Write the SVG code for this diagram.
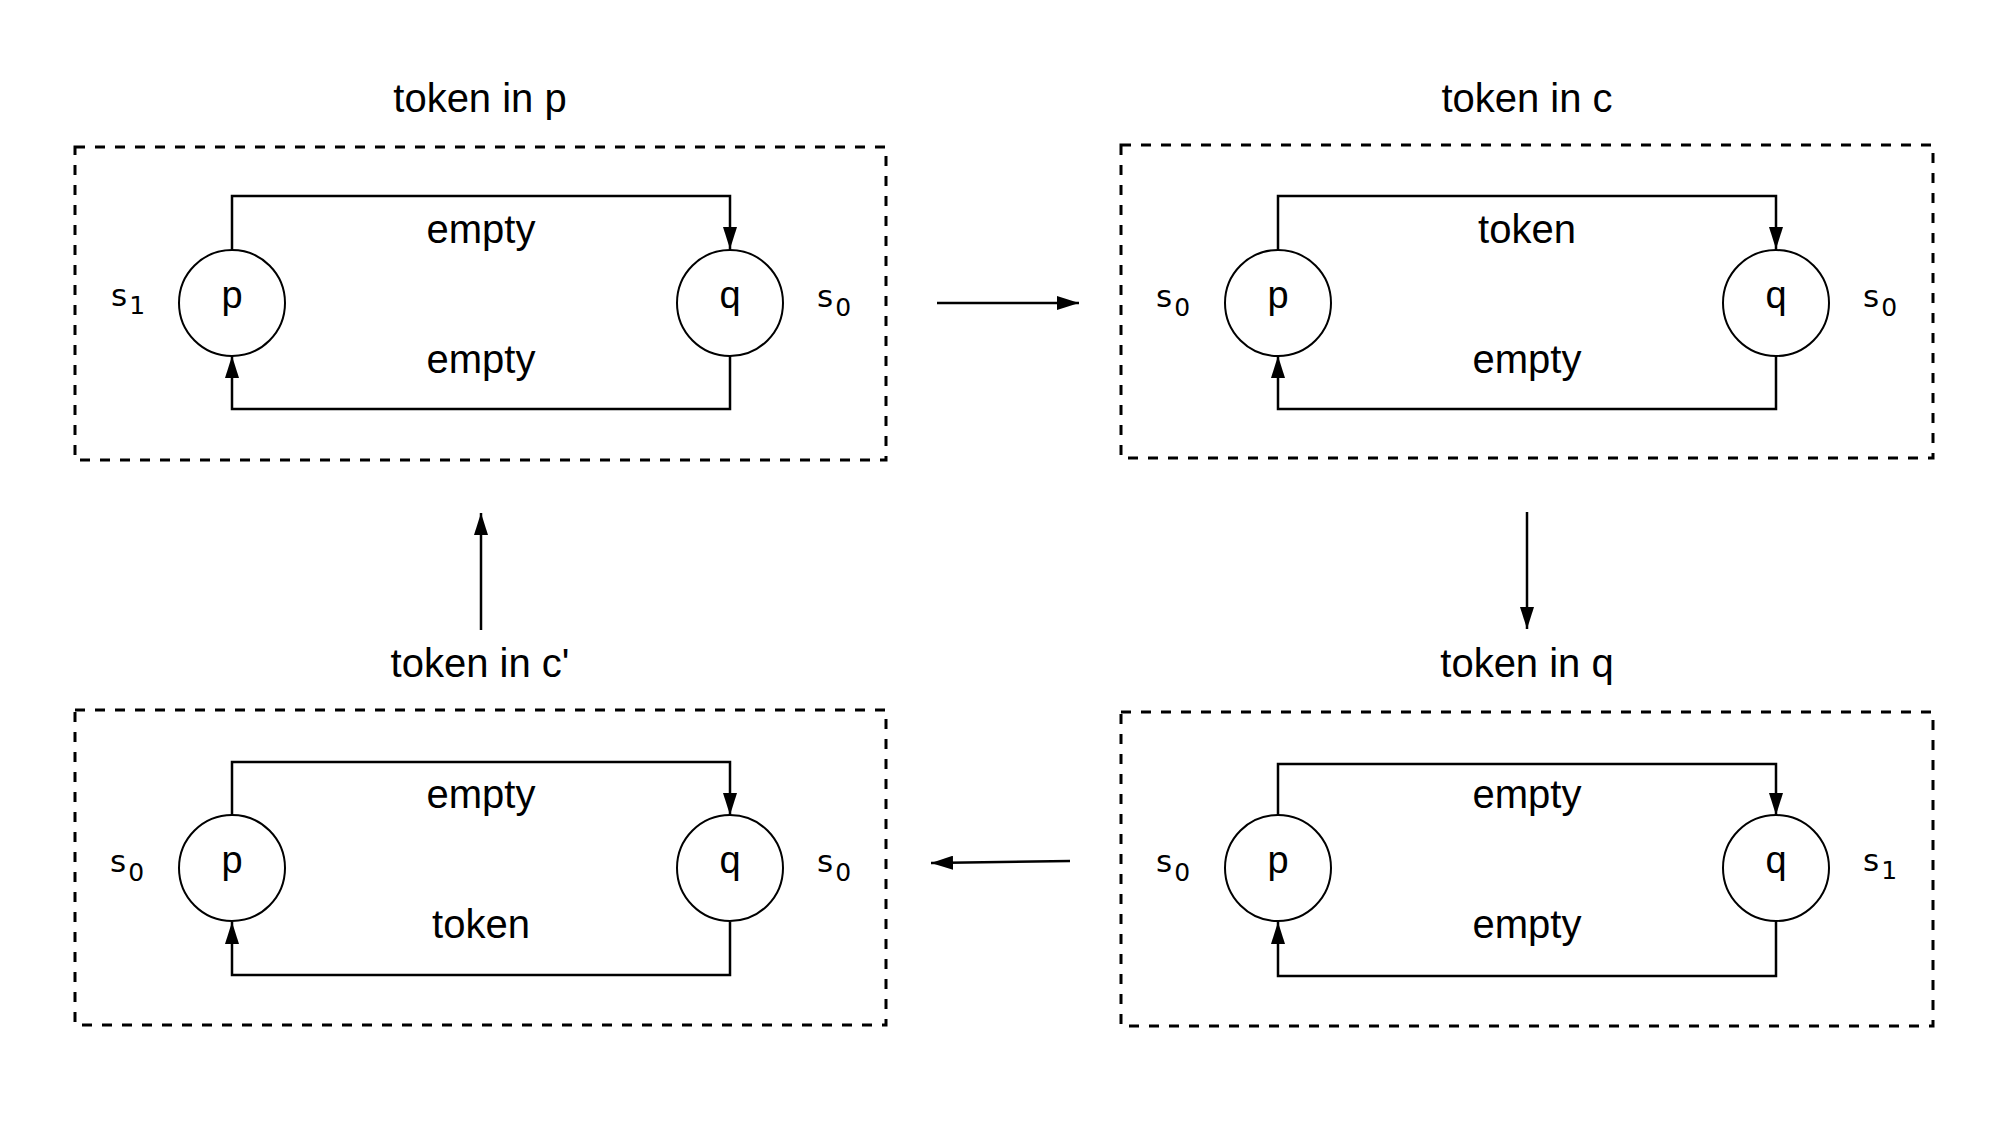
<svg xmlns="http://www.w3.org/2000/svg" width="2000" height="1140" viewBox="0 0 2000 1140">
<style>
.box{fill:none;stroke:#000;stroke-width:3;stroke-dasharray:10 10}
.node{fill:#fff;stroke:#000;stroke-width:2}
.loop{fill:none;stroke:#000;stroke-width:2.5}
.conn{fill:none;stroke:#000;stroke-width:2.5}
text{font-family:"Liberation Sans",Arial,sans-serif;fill:#000}
.t{font-size:40px;text-anchor:middle}
.n{font-size:38px;text-anchor:middle}
.s{font-size:31px;font-family:"DejaVu Sans","Liberation Sans",sans-serif}
.sub{font-size:25px}
</style>
<defs>
<marker id="ah" viewBox="0 0 22 14" refX="22" refY="7" markerWidth="22" markerHeight="14" markerUnits="userSpaceOnUse" orient="auto">
<path d="M0,0 L22,7 L0,14 z" fill="#000"/>
</marker>
</defs>

<g id="state-p">
<text class="t" x="480" y="112">token in p</text>
<rect class="box" x="75" y="147" width="811" height="313"/>
<path class="loop" d="M232,249 V196 H730 V249" marker-end="url(#ah)"/>
<path class="loop" d="M730,356 V409 H232 V356" marker-end="url(#ah)"/>
<text class="t" x="481" y="243">empty</text>
<text class="t" x="481" y="373">empty</text>
<g id="p1"><circle class="node" cx="232" cy="303" r="53"/><text class="n" x="232" y="308">p</text></g>
<g id="q1"><circle class="node" cx="730" cy="303" r="53"/><text class="n" x="730" y="308">q</text></g>
<text class="s" x="111" y="306">s<tspan class="sub" dx="2" dy="8">1</tspan></text>
<text class="s" x="817" y="307">s<tspan class="sub" dx="2" dy="9">0</tspan></text>
</g>

<g id="state-c">
<text class="t" x="1527" y="112">token in c</text>
<rect class="box" x="1121" y="145" width="812" height="313"/>
<path class="loop" d="M1278,249 V196 H1776 V249" marker-end="url(#ah)"/>
<path class="loop" d="M1776,356 V409 H1278 V356" marker-end="url(#ah)"/>
<text class="t" x="1527" y="243">token</text>
<text class="t" x="1527" y="373">empty</text>
<g id="p2"><circle class="node" cx="1278" cy="303" r="53"/><text class="n" x="1278" y="308">p</text></g>
<g id="q2"><circle class="node" cx="1776" cy="303" r="53"/><text class="n" x="1776" y="308">q</text></g>
<text class="s" x="1156" y="307">s<tspan class="sub" dx="2" dy="9">0</tspan></text>
<text class="s" x="1863" y="307">s<tspan class="sub" dx="2" dy="9">0</tspan></text>
</g>

<g id="state-q">
<text class="t" x="1527" y="677">token in q</text>
<rect class="box" x="1121" y="712" width="812" height="314"/>
<path class="loop" d="M1278,815 V764 H1776 V815" marker-end="url(#ah)"/>
<path class="loop" d="M1776,922 V976 H1278 V922" marker-end="url(#ah)"/>
<text class="t" x="1527" y="808">empty</text>
<text class="t" x="1527" y="938">empty</text>
<g id="p3"><circle class="node" cx="1278" cy="868" r="53"/><text class="n" x="1278" y="873">p</text></g>
<g id="q3"><circle class="node" cx="1776" cy="868" r="53"/><text class="n" x="1776" y="873">q</text></g>
<text class="s" x="1156" y="872">s<tspan class="sub" dx="2" dy="9">0</tspan></text>
<text class="s" x="1863" y="871">s<tspan class="sub" dx="2" dy="8">1</tspan></text>
</g>

<g id="state-cprime">
<text class="t" x="480" y="677">token in c'</text>
<rect class="box" x="75" y="710" width="811" height="315"/>
<path class="loop" d="M232,815 V762 H730 V815" marker-end="url(#ah)"/>
<path class="loop" d="M730,922 V975 H232 V922" marker-end="url(#ah)"/>
<text class="t" x="481" y="808">empty</text>
<text class="t" x="481" y="938">token</text>
<g id="p4"><circle class="node" cx="232" cy="868" r="53"/><text class="n" x="232" y="873">p</text></g>
<g id="q4"><circle class="node" cx="730" cy="868" r="53"/><text class="n" x="730" y="873">q</text></g>
<text class="s" x="110" y="872">s<tspan class="sub" dx="2" dy="9">0</tspan></text>
<text class="s" x="817" y="872">s<tspan class="sub" dx="2" dy="9">0</tspan></text>
</g>

<g id="connectors">
<line class="conn" x1="937" y1="303" x2="1079" y2="303" marker-end="url(#ah)"/>
<line class="conn" x1="1527" y1="512" x2="1527" y2="629" marker-end="url(#ah)"/>
<line class="conn" x1="1070" y1="861" x2="931" y2="863" marker-end="url(#ah)"/>
<line class="conn" x1="481" y1="630" x2="481" y2="513" marker-end="url(#ah)"/>
</g>
</svg>
